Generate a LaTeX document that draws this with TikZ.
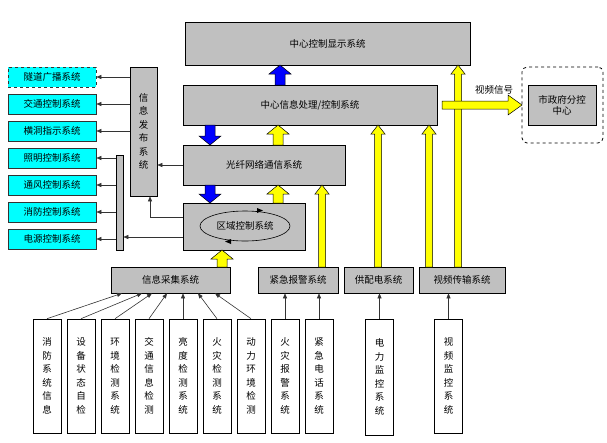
\documentclass[tikz,border=0pt]{standalone}
\usepackage{fontspec}
\setmainfont{Noto Sans CJK SC}
\usetikzlibrary{arrows.meta,shapes.geometric}
\definecolor{cy}{RGB}{0,255,255}
\definecolor{yel}{RGB}{255,255,0}
\definecolor{blu}{RGB}{0,0,255}
\definecolor{gry}{RGB}{192,192,192}
\newcommand\fatup[6]{% x, ytail, ytip, shaft half, head half, color
 \filldraw[draw=black,fill=#6,line width=.5pt] ({#1-#4},#2) -- ({#1-#4},{#3+9}) -- ({#1-#5},{#3+9}) -- (#1,#3) -- ({#1+#5},{#3+9}) -- ({#1+#4},{#3+9}) -- ({#1+#4},#2) -- cycle;}
\newcommand\fatdown[6]{%
 \filldraw[draw=black,fill=#6,line width=.5pt] ({#1-#4},#2) -- ({#1-#4},{#3-9}) -- ({#1-#5},{#3-9}) -- (#1,#3) -- ({#1+#5},{#3-9}) -- ({#1+#4},{#3-9}) -- ({#1+#4},#2) -- cycle;}
\begin{document}
\begin{tikzpicture}[x=1pt,y=-1pt,font=\fontsize{9.5}{11}\selectfont,
 gbox/.style={draw=black,fill=gry,line width=.6pt,inner sep=0pt},
 cbox/.style={draw=black!80,fill=cy,line width=.6pt,inner sep=0pt,minimum width=88pt,minimum height=20pt},
 wbox/.style={draw=black,fill=white,line width=.6pt,inner sep=0pt,minimum width=28pt,align=center,font=\fontsize{9.5}{13.5}\selectfont},
 arr/.style={-{Triangle[length=5pt,width=4pt]},line width=.6pt,black!80}]
\useasboundingbox (0,0) rectangle (607,442);
% main grey boxes
\node[gbox,minimum width=285pt,minimum height=43pt] (top) at (327.5,43.5) {中心控制显示系统};
\node[gbox,minimum width=254pt,minimum height=40pt] (proc) at (310,105) {中心信息处理/控制系统};
\node[gbox,minimum width=162pt,minimum height=40pt] (fib) at (264,165) {光纤网络通信系统};
\node[gbox,minimum width=122pt,minimum height=47pt] (reg) at (244,226.5) {};
\node[draw,ellipse,minimum width=90pt,minimum height=30pt,inner sep=0pt,line width=.6pt] (ell) at (245,226) {区域控制系统};
\node[gbox,minimum width=27pt,minimum height=129pt,align=center,font=\fontsize{9.5}{13.5}\selectfont] (pub) at (143.5,131.5) {信\\息\\发\\布\\系\\统};
\node[gbox,minimum width=7pt,minimum height=95pt] (bar) at (119.5,202.5) {};
% cyan boxes
\node[cbox,dashed] (c1) at (52,77) {隧道广播系统};
\node[cbox] (c2) at (52,104) {交通控制系统};
\node[cbox] (c3) at (52,131) {横洞指示系统};
\node[cbox] (c4) at (52,158) {照明控制系统};
\node[cbox] (c5) at (52,185) {通风控制系统};
\node[cbox] (c6) at (52,212) {消防控制系统};
\node[cbox] (c7) at (52,239) {电源控制系统};
% sub-systems row
\node[gbox,minimum width=119pt,minimum height=26pt] (col) at (170.5,280) {信息采集系统};
\node[gbox,minimum width=80pt,minimum height=26pt] (emg) at (298,280) {紧急报警系统};
\node[gbox,minimum width=69pt,minimum height=26pt] (pow) at (378.5,280) {供配电系统};
\node[gbox,minimum width=86pt,minimum height=26pt] (vid) at (462,280) {视频传输系统};
% city
\node[draw,dashed,rounded corners=5pt,line width=.8pt,minimum width=81pt,minimum height=76pt] (cityo) at (562.5,105) {};
\node[gbox,minimum width=68pt,minimum height=40pt,align=center] (city) at (562,105) {市政府分控\\中心};
\node (sig) at (494,90) {视频信号};
% bottom boxes
\foreach \n/\x/\t in {b1/47/消\\防\\系\\统\\信\\息, b2/81/设\\备\\状\\态\\自\\检, b3/115/环\\境\\检\\测\\系\\统, b4/149/交\\通\\信\\息\\检\\测, b5/183/亮\\度\\检\\测\\系\\统, b6/217/火\\灾\\检\\测\\系\\统, b7/251/动\\力\\环\\境\\检\\测, b8/285/火\\灾\\报\\警\\系\\统, b9/319/紧\\急\\电\\话\\系\\统}
  \node[wbox,minimum height=114pt] (\n) at (\x,376) {\t};
\node[wbox,minimum height=116pt] (b10) at (379.5,377) {电\\力\\监\\控\\系\\统};
\node[wbox,minimum height=114pt] (b11) at (448.5,376) {视\\频\\监\\控\\系\\统};
% thin arrows
\draw[arr] (b1.north) -- (col.south -| 122,0);
\draw[arr] (b2.north) -- (col.south -| 142,0);
\draw[arr] (b3.north) -- (col.south -| 152,0);
\draw[arr] (b4.north) -- (col.south -| 167,0);
\draw[arr] (b5.north) -- (col.south -| 183,0);
\draw[arr] (b6.north) -- (col.south -| 198,0);
\draw[arr] (b7.north) -- (col.south -| 215,0);
\draw[arr] (b8.north) -- (emg.south -| b8);
\draw[arr] (b9.north) -- (emg.south -| b9);
\draw[arr] (b10.north) -- (pow.south -| b10);
\draw[arr] (b11.north) -- (vid.south -| b11);
\foreach \c in {c1,c2,c3} \draw[arr] (pub.west |- \c) -- (\c.east);
\foreach \c in {c4,c5,c6,c7} \draw[arr] (bar.west |- \c) -- (\c.east);
\draw[arr] (fib.west) -- (pub.east |- fib);
\draw[arr] (reg.west |- 0,217) -- (150,217) -- (pub.south -| 150,0);
\draw[arr] (reg.west |- 0,237) -- (bar.east |- 0,237);
% ellipse circulating arrowheads
\fill (263,210.5) -- (257,208) -- (257,213) -- cycle;
\fill (225,241.5) -- (231,239) -- (231,244) -- cycle;
% fat arrows
\fatup{280}{85}{65}{5}{11}{blu}
\fatdown{210}{125}{145}{5}{11}{blu}
\fatdown{210}{185}{203}{5}{11}{blu}
\fatup{278}{145}{125}{5}{11}{yel}
\fatup{278}{203}{185}{5}{11}{yel}
\fatup{222}{267}{250}{5}{11}{yel}
\fatup{322}{267}{185}{3.5}{7}{yel}
\fatup{378}{267}{125}{3.5}{7}{yel}
\fatup{429}{267}{125}{3.5}{7}{yel}
\fatup{458}{267}{65}{3.5}{7}{yel}
\filldraw[draw=black,fill=yel,line width=.5pt] (442,101) -- (508,101) -- (508,95) -- (522,105) -- (508,115) -- (508,109) -- (442,109) -- cycle;
\end{tikzpicture}
\end{document}
